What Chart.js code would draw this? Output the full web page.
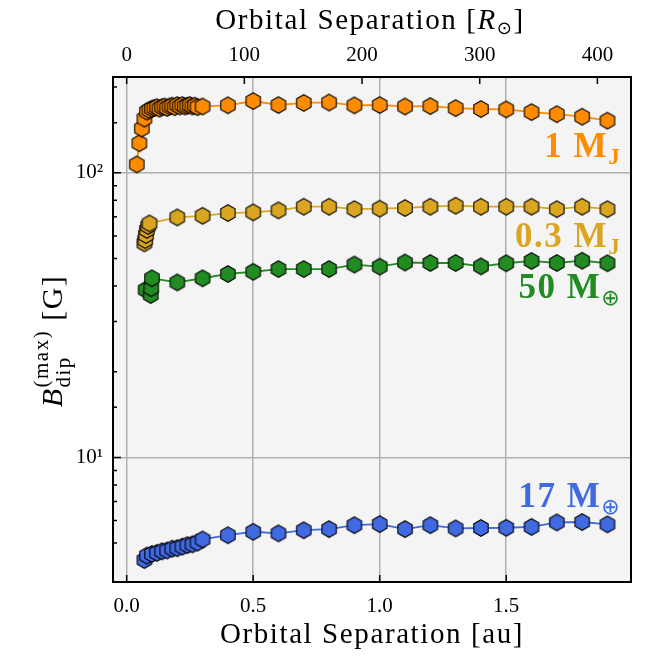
<!DOCTYPE html>
<html>
<head>
<meta charset="utf-8">
<script src="https://cdn.jsdelivr.net/npm/chart.js@4/dist/chart.umd.min.js"></script>
<style>body{margin:0;background:#fff}</style>
</head>
<body>
<canvas id="myChart" width="649" height="658"></canvas>
<script>
// 1 M_J
var mj1_x = [0.04,0.05,0.06,0.07,0.08,0.09,0.10,0.11,0.12,0.13,0.14,0.15,0.16,0.17,0.18,0.19,0.20,0.21,0.22,0.23,0.24,0.25,0.26,0.27,0.28,
  0.3,0.4,0.5,0.6,0.7,0.8,0.9,1.0,1.1,1.2,1.3,1.4,1.5,1.6,1.7,1.8,1.9];
var mj1_y = [107,127,143,155,164,166,168,169,170,168,170,171,169,171,172,170,173,171,173,171,172,173,171,172,170,
  171,172.6,178.7,173,176,176.6,172.5,173,171,171.5,168.7,167.5,167,163.4,160.7,157.4,152.4];
// 0.3 M_J
var mj03_x = [0.07,0.073,0.076,0.08,0.085,0.09,0.2,0.3,0.4,0.5,0.6,0.7,0.8,0.9,1.0,1.1,1.2,1.3,1.4,1.5,1.6,1.7,1.8,1.9];
var mj03_y = [56.5,58,60.4,63,65,66.4,69.7,70.6,72.2,72.6,73.8,76,76,74.5,74.8,75.2,76,76.6,76,76,76,74.5,76,74.5];
// 50 M_earth
var me50_x = [0.075,0.095,0.097,0.1,0.2,0.3,0.4,0.5,0.6,0.7,0.8,0.9,1.0,1.1,1.2,1.3,1.4,1.5,1.6,1.7,1.8,1.9];
var me50_y = [38.8,37.2,39.3,42.6,41.2,42.6,44.1,44.9,45.9,45.9,45.9,47.6,46.8,48.4,48.2,48.2,46.9,48.1,49,48.2,49.1,48.1];
// 17 M_earth
var me17_x = [0.07,0.08,0.10,0.12,0.14,0.16,0.18,0.20,0.22,0.24,0.26,0.28,
  0.3,0.4,0.5,0.6,0.7,0.8,0.9,1.0,1.1,1.2,1.3,1.4,1.5,1.6,1.7,1.8,1.9];
var me17_y = [4.36,4.52,4.58,4.62,4.68,4.71,4.78,4.8,4.86,4.92,4.95,5.02,
  5.15,5.33,5.48,5.41,5.55,5.6,5.78,5.83,5.6,5.78,5.63,5.65,5.66,5.70,5.91,5.93,5.82];

var series_names = ['1 M', '0.3 M', '50 M', '17 M'];
var series_subs = ['J', 'J', '\u2295', '\u2295'];
var series_colors = ['#ff8c00', '#daa520', '#228b22', '#4169e1'];
var label_y = [113.6, 54.8, 36.3, 6.69];
var label_x = 1.954;

var x_ticks_au = [0, 0.5, 1.0, 1.5];
var top_ticks_rsun = [0, 100, 200, 300, 400];
var AU_RSUN = 215.03;
var x_min = -0.054, x_max = 1.993;

var SERIF = '"Liberation Serif", "DejaVu Serif", serif';

function hexImage(color) {
  var c = document.createElement('canvas');
  c.width = 20; c.height = 20;
  var g = c.getContext('2d');
  var r = 8.3;
  g.beginPath();
  for (var i = 0; i < 6; i++) {
    var a = Math.PI / 3 * i - Math.PI / 2;
    var px = 10 + r * Math.cos(a), py = 10 + r * Math.sin(a);
    if (i === 0) g.moveTo(px, py); else g.lineTo(px, py);
  }
  g.closePath();
  g.fillStyle = color;
  g.fill();
  g.lineWidth = 1.1;
  g.strokeStyle = '#000';
  g.stroke();
  return c;
}

function pts(xs, ys) {
  return xs.map(function (v, i) { return {x: v, y: ys[i]}; });
}

function makeSet(xs, ys, k) {
  return {
    label: series_names[k] + series_subs[k],
    data: pts(xs, ys),
    borderColor: series_colors[k],
    backgroundColor: series_colors[k],
    borderWidth: 1.8,
    pointStyle: hexImage(series_colors[k]),
    pointRadius: 8,
    tension: 0
  };
}

// draws a row of text pieces, each with its own font and vertical shift
function drawRich(ctx, parts, x, y, align, spacing) {
  ctx.letterSpacing = (spacing || 0) + 'px';
  var w = 0;
  parts.forEach(function (p) {
    ctx.font = p.font;
    p.w = ctx.measureText(p.t).width;
    w += (p.adv === 0 ? 0 : p.w);
  });
  var sx = align === 'right' ? x - w : (align === 'center' ? x - w / 2 : x);
  parts.forEach(function (p) {
    ctx.font = p.font;
    ctx.fillText(p.t, sx, y + (p.dy || 0));
    if (p.adv !== 0) sx += p.w;
  });
  ctx.letterSpacing = '0px';
}

var decor = {
  id: 'decor',
  beforeDraw: function (chart) {
    var a = chart.chartArea, ctx = chart.ctx;
    ctx.save();
    ctx.fillStyle = '#f4f4f4';
    ctx.fillRect(a.left, a.top, a.right - a.left, a.bottom - a.top);
    ctx.restore();
  },
  afterDraw: function (chart) {
    var a = chart.chartArea, ctx = chart.ctx;
    var sx = chart.scales.x, sy = chart.scales.y, st = chart.scales.x2;
    ctx.save();
    ctx.strokeStyle = '#000';
    ctx.lineWidth = 1.5;
    ctx.beginPath();
    // inward ticks
    x_ticks_au.forEach(function (v) {
      var px = sx.getPixelForValue(v);
      ctx.moveTo(px, a.bottom); ctx.lineTo(px, a.bottom - 7);
    });
    top_ticks_rsun.forEach(function (v) {
      var px = st.getPixelForValue(v);
      ctx.moveTo(px, a.top); ctx.lineTo(px, a.top + 7);
    });
    sy.ticks.forEach(function (t) {
      var py = sy.getPixelForValue(t.value);
      if (py < a.top || py > a.bottom) return;
      var major = (t.value === 10 || t.value === 100);
      ctx.moveTo(a.left, py); ctx.lineTo(a.left + (major ? 8 : 4), py);
    });
    ctx.stroke();
    // frame
    ctx.lineWidth = 2;
    ctx.strokeRect(a.left, a.top, a.right - a.left, a.bottom - a.top);

    // axis titles
    ctx.fillStyle = '#000';
    ctx.textBaseline = 'alphabetic';
    var cx = (a.left + a.right) / 2;
    drawRich(ctx, [{t: 'Orbital Separation [au]', font: '29px ' + SERIF}], cx, 643, 'center', 1.6);
    drawRich(ctx, [
      {t: 'Orbital Separation [', font: '29px ' + SERIF},
      {t: 'R', font: 'italic 29px ' + SERIF},
      {t: '\u2299', font: '18px "DejaVu Sans"', dy: 5},
      {t: ']', font: '29px ' + SERIF}
    ], cx - 2, 29, 'center', 1.6);
    ctx.save();
    ctx.translate(62, 341);
    ctx.rotate(-Math.PI / 2);
    drawRich(ctx, [
      {t: 'B', font: 'italic 30px ' + SERIF},
      {t: 'dip', font: '21px ' + SERIF, dy: 8, adv: 0},
      {t: '(max)', font: '21px ' + SERIF, dy: -14},
      {t: ' [G]', font: '30px ' + SERIF}
    ], 0, 0, 'center', 1.5);
    ctx.restore();

    // series labels
    for (var k = 0; k < 4; k++) {
      ctx.fillStyle = series_colors[k];
      var subFont = series_subs[k] === 'J' ? 'bold 23px ' + SERIF : '22px "DejaVu Sans"';
      drawRich(ctx, [
        {t: series_names[k], font: 'bold 35px ' + SERIF},
        {t: series_subs[k], font: subFont, dy: 7}
      ], sx.getPixelForValue(label_x), sy.getPixelForValue(label_y[k]), 'right', 1.5);
    }
    ctx.restore();
  }
};

var data = {
  datasets: [
    makeSet(mj1_x, mj1_y, 0),
    makeSet(mj03_x, mj03_y, 1),
    makeSet(me50_x, me50_y, 2),
    makeSet(me17_x, me17_y, 3)
  ]
};

var config = {
  type: 'line',
  data: data,
  options: {
    responsive: false,
    animation: false,
    layout: {padding: {right: 18}},
    plugins: {legend: {display: false}, tooltip: {enabled: false}},
    scales: {
      x: {
        type: 'linear',
        position: 'bottom',
        min: x_min,
        max: x_max,
        afterFit: function (s) { s.height = 76; },
        afterBuildTicks: function (s) { s.ticks = x_ticks_au.map(function (v) { return {value: v}; }); },
        ticks: {
          padding: 12,
          color: '#000',
          font: {family: SERIF, size: 21},
          callback: function (v) { return v.toFixed(1); }
        },
        grid: {color: '#b0b0b0', lineWidth: 1.5, drawTicks: false},
        border: {display: false}
      },
      x2: {
        type: 'linear',
        position: 'top',
        min: x_min * AU_RSUN,
        max: x_max * AU_RSUN,
        afterFit: function (s) { s.height = 77; },
        afterBuildTicks: function (s) { s.ticks = top_ticks_rsun.map(function (v) { return {value: v}; }); },
        ticks: {
          padding: 9,
          color: '#000',
          font: {family: SERIF, size: 21},
          callback: function (v) { return String(v); }
        },
        grid: {display: false, drawTicks: false},
        border: {display: false}
      },
      y: {
        type: 'logarithmic',
        min: 3.65,
        max: 217,
        afterFit: function (s) { s.width = 113; },
        ticks: {
          autoSkip: false,
          padding: 10,
          color: '#000',
          font: {family: SERIF, size: 21},
          callback: function (v) {
            if (v === 10) return '10\u00b9';
            if (v === 100) return '10\u00b2';
            return '';
          }
        },
        grid: {
          drawTicks: false,
          lineWidth: 1.5,
          color: function (c) {
            var v = c.tick && c.tick.value;
            return (v === 10 || v === 100) ? '#b0b0b0' : 'rgba(0,0,0,0)';
          }
        },
        border: {display: false}
      }
    }
  },
  plugins: [decor]
};

var myChart = new Chart(document.getElementById('myChart'), config);
</script>
</body>
</html>
